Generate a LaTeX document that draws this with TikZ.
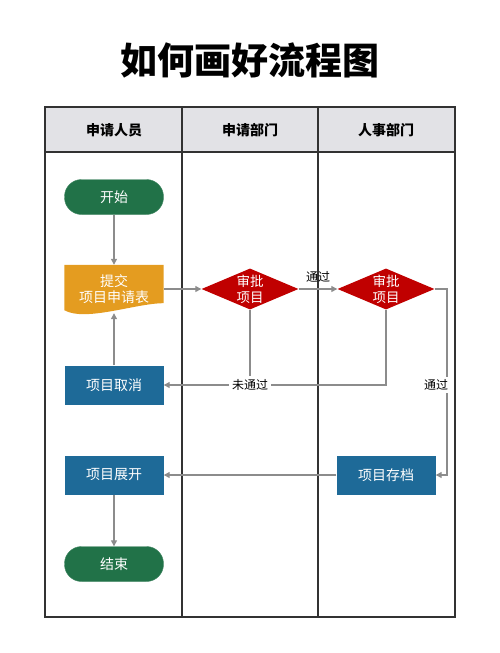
\documentclass[tikz,border=0pt]{standalone}
\usepackage{fontspec}
\usetikzlibrary{arrows.meta,shapes.geometric,backgrounds}
\newfontfamily\cjk{Noto Sans CJK SC}
\definecolor{headgray}{RGB}{226,226,230}
\definecolor{framegray}{RGB}{50,50,50}
\definecolor{linegray}{RGB}{140,140,140}
\definecolor{startgreen}{RGB}{33,114,72}
\definecolor{formorange}{RGB}{228,156,32}
\definecolor{checkred}{RGB}{192,0,0}
\definecolor{boxblue}{RGB}{30,106,152}

\begin{document}
\begin{tikzpicture}[x=1pt, y=-1pt,
    lane/.style={draw=framegray, line width=1.3pt},
    head/.style={font=\cjk\bfseries\fontsize{14}{16}\selectfont},
    pill/.style={draw=startgreen!85!white, fill=startgreen, rounded corners=17pt,
        minimum width=99pt, minimum height=35pt, text=white,
        font=\cjk\fontsize{14}{16}\selectfont},
    box/.style={fill=boxblue, minimum width=99pt, minimum height=39pt, text=white,
        font=\cjk\fontsize{14}{16}\selectfont},
    check/.style={diamond, fill=checkred, aspect=2.4, inner sep=0pt,
        minimum width=97pt, minimum height=41pt, text=white, align=center,
        font=\cjk\fontsize{13.5}{16}\selectfont},
    flow/.style={draw=linegray, line width=1.2pt, -{Triangle[length=6pt,width=6pt]}},
    link/.style={draw=linegray, line width=1.2pt},
    tag/.style={fill=white, inner sep=3pt, font=\cjk\fontsize{12}{14}\selectfont}]
    \useasboundingbox (0,0) rectangle (500,653);

    \node [font=\cjk\bfseries\fontsize{37}{40}\selectfont] (title) at (250,60) {如何画好流程图};

    % lanes
    \fill [headgray] (45,107) rectangle (455,152);
    \draw [lane] (45,107) rectangle (455,617);
    \draw [lane] (45,152) -- (455,152);
    \draw [lane] (182,107) -- (182,617);
    \draw [lane] (318,107) -- (318,617);
    \node [head] (laneA) at (114,130) {申请人员};
    \node [head] (laneB) at (250,130) {申请部门};
    \node [head] (laneC) at (386,130) {人事部门};

    \node [pill] (start)   at (114,197) {开始};
    \node [minimum width=99pt, minimum height=48pt, align=center, text=white,
           font=\cjk\fontsize{14}{16}\selectfont] (apply) at (114,289) {提交\\项目申请表};
    \node [check] (check1) at (250,289) {审批\\项目};
    \node [check] (check2) at (386,289) {审批\\项目};
    \node [box]  (cancel)  at (114,385) {项目取消};
    \node [box]  (expand)  at (114,475) {项目展开};
    \node [box]  (archive) at (386,475) {项目存档};
    \node [pill] (end)     at (114,564) {结束};
    \coordinate (bend) at (447,289);

    \begin{pgfonlayer}{background}
        \fill [formorange] (apply.north west) -- (apply.north east)
            -- ([yshift=10pt]apply.south east)
            .. controls ([xshift=-28pt,yshift=10pt]apply.south east)
                    and ([xshift=21pt,yshift=-9pt]apply.south west)
            .. ([yshift=3pt]apply.south west) -- cycle;
    \end{pgfonlayer}

    % Now draw the lines:
    \draw [flow] (start) -- (apply);
    \draw [flow] (apply) -- (check1);
    \draw [flow] (check1) -- node [tag, above=3pt, fill=none] (pass1) {通过} (check2);
    \draw [link] (check1) -- (check1 |- cancel);
    \draw [flow] (check2) |- (cancel);
    \draw [flow] (check2) -- (bend) |- (archive);
    \draw [flow] (cancel) -- (apply);
    \draw [flow] (archive) -- (expand);
    \draw [flow] (expand) -- (end);
    \node [tag] (fail) at (check1 |- cancel) {未通过};
    \node [tag] (pass2) at (436,385) {通过};
\end{tikzpicture}
\end{document}
